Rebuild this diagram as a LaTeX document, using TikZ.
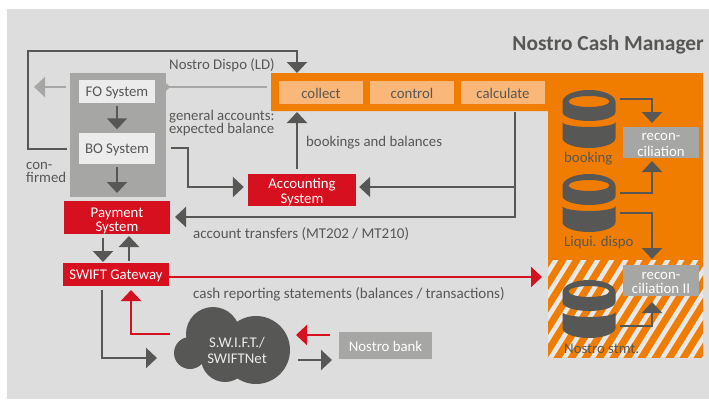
\documentclass[tikz,border=0pt]{standalone}
\usepackage{fontspec}
\setmainfont{Carlito}
\usetikzlibrary{arrows.meta, calc, positioning}
\definecolor{bggray}{RGB}{221,221,221}
\definecolor{darkgray}{RGB}{87,87,86}
\definecolor{midgray}{RGB}{166,166,164}
\definecolor{lightbox}{RGB}{236,236,236}
\definecolor{sysred}{RGB}{215,16,31}
\definecolor{cashorange}{RGB}{241,125,0}
\definecolor{softorange}{RGB}{250,183,122}
\definecolor{stripe}{RGB}{232,232,232}
\tikzset{
    txt/.style={font=\fontsize{14.8}{13.5}\selectfont, text=darkgray, inner sep=0pt, align=left},
    boxbase/.style={inner sep=0pt, align=center, font=\fontsize{14.8}{14.5}\selectfont, text height=13pt},
    fobox/.style={boxbase, fill=lightbox, text=darkgray, minimum width=76pt},
    redbox/.style={boxbase, fill=sysred, text=white, minimum width=106pt},
    taskbox/.style={boxbase, fill=softorange, text=darkgray, minimum width=84pt, minimum height=23pt},
    graybox/.style={boxbase, fill=midgray, text=white},
    darkarrow/.style={draw=darkgray, line width=2.2pt, -{Triangle[width=20pt,length=11pt]}},
    redarrow/.style={draw=sysred, line width=2.2pt, -{Triangle[width=20pt,length=11pt]}},
    lightarrow/.style={draw=midgray, line width=2.2pt, -{Triangle[width=20pt,length=11pt]}}
}
% one database icon, #1 = x centre, #2 = y top
\newcommand{\dbicon}[2]{
    \begin{scope}[shift={(#1,#2)}]
        \fill[darkgray, even odd rule] (-26.5,12) arc[start angle=180, end angle=0, x radius=26.5, y radius=-12]
            -- (26.5,22) arc[start angle=0, end angle=-180, x radius=26.5, y radius=-9]
            -- cycle (0,11.5) ellipse[x radius=20.5, y radius=5.5];
        \fill[darkgray] (-26.5,32) arc[start angle=180, end angle=360, x radius=26.5, y radius=-5]
            -- (26.5,48) arc[start angle=0, end angle=-180, x radius=26.5, y radius=-10]
            -- cycle;
    \end{scope}
}
\begin{document}
\begin{tikzpicture}[x=1pt, y=-1pt]
    \useasboundingbox (0,0) rectangle (709,399);
    \fill[bggray] (7,9) rectangle (709,399);

    % Title
    \node[txt, anchor=east, font=\fontsize{21.4}{23}\selectfont\bfseries] (title) at (704,44.5) {Nostro Cash Manager};

    % Orange area
    \fill[cashorange] (271,73) -- (703,73) -- (703,261) -- (548,261) -- (548,111) -- (271,111) -- cycle;

    % Striped area
    \fill[stripe] (548,260) rectangle (703,357);
    \begin{scope}
        \clip (548,260) rectangle (703,357);
        \foreach \s in {0,14,...,266}
            \draw[cashorange, line width=7pt] ({480+\s},370) -- ({480+\s+75},250);
    \end{scope}

    % FO / BO panel
    \node[fill=midgray, minimum width=96pt, minimum height=124pt, inner sep=0pt] (fobo) at (118,135) {};
    \node[fobox, minimum height=23pt] (fosys) at (117,91.5) {FO System};
    \node[fobox, minimum height=31pt] (bosys) at (117,148) {BO System};

    % Red systems
    \node[redbox, minimum height=31pt, text height=31pt] (payment) at (117,217.5) {Payment\\System};
    \node[redbox, minimum height=23pt] (gateway) at (116,274.5) {SWIFT Gateway};
    \node[redbox, minimum width=108pt, minimum height=32pt, text height=29pt] (accounting) at (302,190) {Accounting\\System};

    % Tasks
    \node[taskbox] (collect) at (321,92.5) {collect};
    \node[taskbox] (control) at (412,92.5) {control};
    \node[taskbox] (calculate) at (503,92.5) {calculate};

    % Databases
    \dbicon{589}{90}
    \dbicon{589}{174}
    \dbicon{589}{280}
    \node[txt, anchor=west] (booking) at (564,159) {booking};
    \node[txt, anchor=west] (liqui) at (564,243) {Liqui. dispo};
    \node[txt, anchor=west] (stmt) at (564,349) {Nostro stmt.};

    % Reconciliation
    \node[graybox, minimum width=76pt, minimum height=31pt, text height=28pt] (recon) at (661,142.5) {recon-\\[1pt]ciliation};
    \node[graybox, minimum width=76pt, minimum height=31pt, text height=27pt] (reconii) at (661,280.5) {recon-\\ciliation II};
    \node[graybox, minimum width=93pt, minimum height=27pt] (bank) at (385.5,345.5) {Nostro bank};

    % Cloud
    \fill[darkgray] (190,353) circle (16) (213,334) circle (27) (256,350) circle (34) (225,358) circle (24);
    \node[boxbase, text=lightbox, text height=27pt] (swift) at (237,350.5) {S.W.I.F.T./\\[2pt]SWIFTNet};

    % Free ends
    \coordinate (loopstart) at (67,149);
    \coordinate (looptip) at (297,73);
    \coordinate (dispostart) at (267,87);
    \coordinate (leftstart) at (66,87);
    \coordinate (lefttip) at (34,87);
    \coordinate (calcfoot) at (515,112);
    \coordinate (cloudwest) at (170,334);
    \coordinate (cloudsouth) at (157,358);
    \coordinate (cloudred) at (296,335);
    \coordinate (clouddark) at (298,360);
    \coordinate (stmtwest) at (542,277);

    % Connectors
    \draw[darkarrow] (loopstart) -| (28,51) -| (looptip);
    \draw[lightarrow] (dispostart) -- (fobo.east |- dispostart) -- ++(4,0);
    \draw[lightarrow] (leftstart) -- (lefttip);
    \draw[darkarrow, shorten <=3pt, shorten >=3pt] (fosys) -- (bosys);
    \draw[darkarrow, shorten >=2pt] (117,167) -- (117,195);
    \draw[darkarrow] (171,148) -| (188,187) -- ($(accounting.west |- 0,187)+(-4,0)$);
    \draw[darkarrow] (297,169) -- (297,112);
    \draw[darkarrow, shorten >=3pt] (calcfoot) |- (accounting.east |- 0,187);
    \draw[darkarrow] (calcfoot) |- (175,217);
    \draw[darkarrow] (103,238) -- (103,262);
    \draw[darkarrow] (129,261) -- (129,236);
    \draw[darkarrow] (102,290) |- (cloudsouth);
    \draw[redarrow] (cloudwest) -| (131,290);
    \draw[redarrow] (gateway.east |- stmtwest) -- (stmtwest);
    \draw[redarrow] (330,335) -- (cloudred);
    \draw[darkarrow] (clouddark) -- (332,360);
    \draw[darkarrow] (620,99) -| (652,123);
    \draw[darkarrow] (620,193) -| (652,161);
    \draw[darkarrow] (620,213) -| (652,259);
    \draw[darkarrow] (620,326) -| (652,302);

    % Labels
    \node[txt, anchor=west] (dispolabel) at (169,65) {Nostro Dispo (LD)};
    \node[txt, anchor=west] (general) at (169,123) {general accounts:\\expected balance};
    \node[txt, anchor=west] (confirmed) at (26,172.5) {con-\\firmed};
    \node[txt, anchor=west] (bookings) at (306,143) {bookings and balances};
    \node[txt, anchor=west, font=\fontsize{15}{15}\selectfont] (transfers) at (193,234.5) {account transfers (MT202 / MT210)};
    \node[txt, anchor=west, font=\fontsize{15}{15}\selectfont] (reporting) at (193,294.5) {cash reporting statements (balances / transactions)};
\end{tikzpicture}
\end{document}
